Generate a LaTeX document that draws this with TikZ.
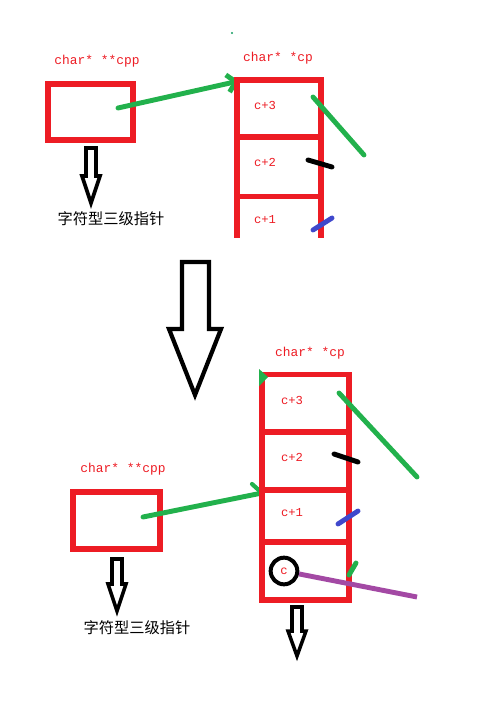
\documentclass[tikz,border=0pt]{standalone}
\usepackage{fontspec}
\setmonofont{Liberation Mono}
\newfontfamily\cjk{Noto Sans CJK SC}
\usepackage{tikz}
\usetikzlibrary{arrows.meta}
\definecolor{paintred}{HTML}{ED1C24}
\definecolor{paintgreen}{HTML}{22B14C}
\definecolor{paintblue}{HTML}{3F48CC}
\definecolor{paintpurple}{HTML}{A349A4}

\begin{document}
\begin{tikzpicture}[x=0.03cm, y=-0.03cm,
    redwall/.style={draw=paintred, line width=5pt},
    varlabel/.style={text=paintred, inner sep=0pt, font=\ttfamily\fontsize{11}{13}\selectfont},
    celllabel/.style={text=paintred, inner sep=0pt, font=\ttfamily\fontsize{10.4}{12}\selectfont},
    note/.style={inner sep=0pt, font=\cjk\fontsize{13}{15}\selectfont},
    hollow/.style={draw=black, line width=3.2pt, fill=white},
    stroke/.style={line width=4.2pt, line cap=round}]
    \useasboundingbox (0,0) rectangle (486,711);
    \fill[paintgreen!60!teal] (232,33) circle (1.2);

    % Upper half: the pointer box and the array of pointers
    \node[varlabel] (cppUp) at (97,61) {char* **cpp};
    \node[varlabel] (cpUp) at (278,58) {char* *cp};
    \draw[redwall] (48,84) rectangle (133,140);
    \coordinate (cppUpIn) at (118,108);
    \coordinate (cpUpCorner) at (239,81);
    \draw[stroke, draw=paintgreen, -{Straight Barb[length=7pt,width=15pt]}] (cppUpIn) -- (cpUpCorner);
    \draw[redwall] (237,238) -- (237,80) -- (321,80) -- (321,238);
    \foreach \yy in {137,196.5} {
        \draw[redwall] (237,\yy) -- (321,\yy);
    }
    \foreach \k/\yy in {3/105, 2/162, 1/220} {
        \node[celllabel] (cpUp\k) at (265,\yy) {c+\k};
    }
    \coordinate (gUpA) at (313,97);
    \coordinate (gUpB) at (364,155);
    \draw[stroke, draw=paintgreen] (gUpA) -- (gUpB);
    \coordinate (kUpA) at (308,160);
    \coordinate (kUpB) at (332,167);
    \draw[stroke, draw=black] (kUpA) -- (kUpB);
    \coordinate (bUpA) at (313,230);
    \coordinate (bUpB) at (332,218);
    \draw[stroke, draw=paintblue] (bUpA) -- (bUpB);
    \draw[hollow] (86,148) -- (96,148) -- (96,176) -- (100,176) -- (91,203) -- (82,176) -- (86,176) -- cycle;
    \node[note] (noteUp) at (111,219) {字符型三级指针};

    % Big arrow in between
    \draw[hollow, line width=3.6pt] (182,262) -- (209,262) -- (209,329) -- (221,329) -- (195,395) -- (169,329) -- (182,329) -- cycle;

    % Lower half: same, with the char c at the bottom
    \node[varlabel] (cpDown) at (310,353) {char* *cp};
    \node[varlabel] (cppDown) at (123,469) {char* **cpp};
    \draw[redwall] (73,492) rectangle (160,549);
    \coordinate (cppDownIn) at (143,517);
    \coordinate (cpDownWall) at (262,493);
    \coordinate (barbEnd) at (252,484);
    \draw[stroke, draw=paintgreen] (cppDownIn) -- (cpDownWall);
    \draw[stroke, draw=paintgreen, line width=3.6pt] (barbEnd) -- (cpDownWall);
    \draw[redwall] (262,374.5) rectangle (349,600);
    \foreach \yy in {432,490,542} {
        \draw[redwall] (262,\yy) -- (349,\yy);
    }
    \fill[paintgreen] (259,369) -- (268,377) -- (259,386) -- cycle;
    \foreach \k/\yy in {3/400, 2/457, 1/513} {
        \node[celllabel] (cpDown\k) at (292,\yy) {c+\k};
    }
    \node[celllabel, circle, draw=black, line width=3.4pt, minimum size=0.8cm] (cChar) at (284,571) {c};
    \coordinate (gDownA) at (339,393);
    \coordinate (gDownB) at (417,477);
    \draw[stroke, draw=paintgreen] (gDownA) -- (gDownB);
    \coordinate (kDownA) at (334,454);
    \coordinate (kDownB) at (358,462);
    \draw[stroke, draw=black] (kDownA) -- (kDownB);
    \coordinate (bDownA) at (338,524);
    \coordinate (bDownB) at (358,511);
    \draw[stroke, draw=paintblue] (bDownA) -- (bDownB);
    \coordinate (gTickA) at (356,563);
    \coordinate (gTickB) at (349,575);
    \draw[stroke, draw=paintgreen] (gTickA) -- (gTickB);
    \coordinate (pEnd) at (417,597);
    \draw[stroke, draw=paintpurple, line cap=butt] (cChar) -- (pEnd);
    \draw[hollow, line width=3pt] (112,559) -- (122,559) -- (122,584) -- (126,584) -- (117,611) -- (108,584) -- (112,584) -- cycle;
    \node[note] (noteDown) at (137,628) {字符型三级指针};
    \draw[hollow, line width=3pt] (292,607) -- (302,607) -- (302,631) -- (306,631) -- (297,656) -- (288,631) -- (292,631) -- cycle;
\end{tikzpicture}
\end{document}
